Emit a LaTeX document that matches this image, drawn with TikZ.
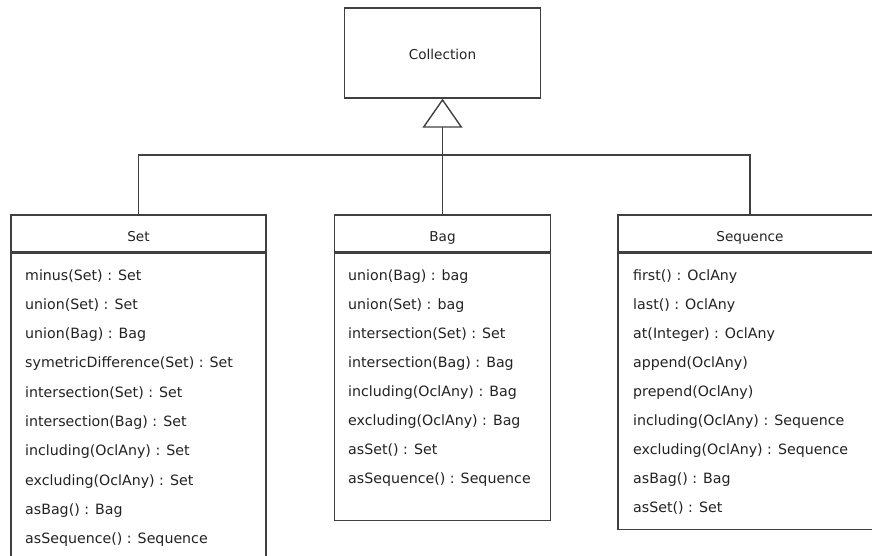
\documentclass[tikz,border=0pt]{standalone}
\usepackage{fontspec}
\setmainfont{DejaVu Sans}
\usetikzlibrary{arrows.meta}
\definecolor{linegray}{HTML}{404040}
\definecolor{textgray}{HTML}{222222}
\begin{document}
\begin{tikzpicture}[x=1pt,y=-1pt,
  box/.style={draw=linegray, line width=1.4pt, inner sep=0pt, text=textgray},
  classname/.style={box, font=\fontsize{13.6}{16}\selectfont, text height=16pt, text depth=0pt},
  body/.style={draw=linegray, line width=1.4pt, anchor=north, inner sep=0pt},
  member/.style={anchor=base west, inner sep=0pt, text=textgray, font=\fontsize{14.2}{17}\selectfont},
  conn/.style={draw=linegray, line width=1.4pt},
  gen/.style={conn, -{Triangle[open, length=29pt, width=40pt, line width=1.4pt]}}]
\useasboundingbox (0,0) rectangle (872,556);
\clip (0,0) rectangle (872,556);

% abstract superclass
\node[classname, minimum width=196pt, minimum height=90pt, text height=14pt] (coll) at (442.5,53) {Collection};

% class headers
\node[classname, minimum width=255pt, minimum height=37pt] (set) at (138.5,233.5) {Set};
\node[classname, minimum width=216pt, minimum height=37pt] (bag) at (442.5,233.5) {Bag};
\node[classname, minimum width=264pt, minimum height=37pt] (seq) at (750,233.5) {Sequence};

% operation compartments
\node[body, minimum width=255pt, minimum height=360pt] (setbody) at (set.south) {};
\node[body, minimum width=216pt, minimum height=267pt] (bagbody) at (bag.south) {};
\node[body, minimum width=264pt, minimum height=276pt] (seqbody) at (seq.south) {};

% operations
\foreach \t [count=\i from 0] in {minus(Set) : Set, union(Set) : Set, union(Bag) : Bag,
    symetricDifference(Set) : Set, intersection(Set) : Set, intersection(Bag) : Set,
    including(OclAny) : Set, excluding(OclAny) : Set, asBag() : Bag, asSequence() : Sequence}
  \node[member] (setop\i) at (25,280+29.3*\i) {\t};
\foreach \t [count=\i from 0] in {union(Bag) : bag, union(Set) : bag, intersection(Set) : Set,
    intersection(Bag) : Bag, including(OclAny) : Bag, excluding(OclAny) : Bag,
    asSet() : Set, asSequence() : Sequence}
  \node[member] (bagop\i) at (348,280+29*\i) {\t};
\foreach \t [count=\i from 0] in {first() : OclAny, last() : OclAny, at(Integer) : OclAny,
    append(OclAny), prepend(OclAny), including(OclAny) : Sequence,
    excluding(OclAny) : Sequence, asBag() : Bag, asSet() : Set}
  \node[member] (seqop\i) at (633,280+29*\i) {\t};

% generalization tree
\coordinate (bus) at (442.5,155);
\draw[conn] (set.north) |- (bus) -| (seq.north);
\draw[gen] (bag.north) -- (coll.south);
\end{tikzpicture}
\end{document}
